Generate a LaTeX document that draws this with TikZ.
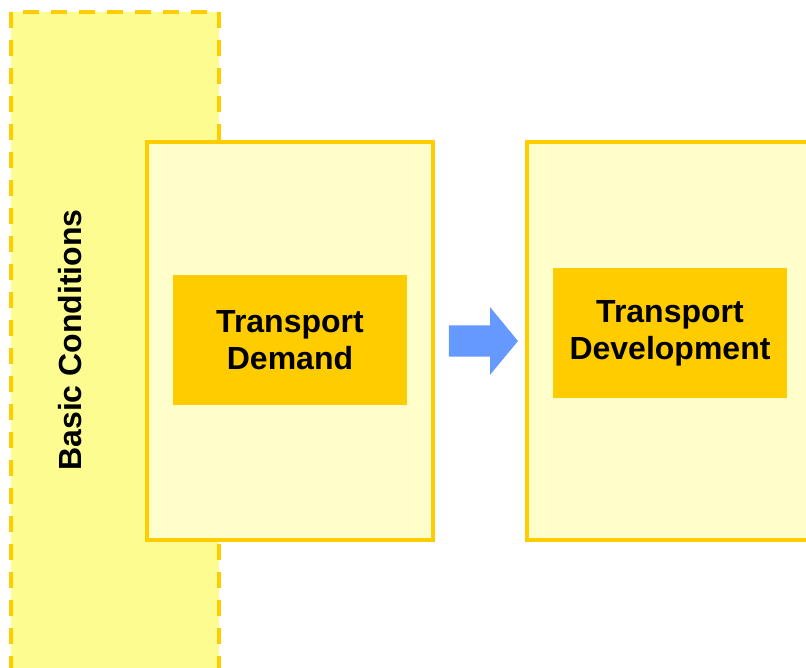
\documentclass[tikz,border=0pt]{standalone}
\usepackage{fontspec}
\setmainfont{Liberation Sans}
\usetikzlibrary{shapes.arrows}

\definecolor{amber}{HTML}{FFCC00}
\definecolor{lemon}{HTML}{FDFC91}
\definecolor{cream}{HTML}{FFFFCC}
\definecolor{flowblue}{HTML}{6699FF}

\tikzset{
	panel/.style = {draw = amber, line width = 3.5pt, fill = cream, minimum width = 286pt, minimum height = 398pt},
	core/.style = {fill = amber, minimum width = 234pt, minimum height = 130pt, align = center,
		font = \fontsize{32}{37}\selectfont\bfseries},
}

\begin{document}
\begin{tikzpicture}[x = 1pt, y = -1pt]
	\path [use as bounding box, clip] (0,0) rectangle (806,667);
	% basic conditions band, runs off the bottom
	\draw [draw = amber, fill = lemon, line width = 3.5pt, dash pattern = on 16pt off 12pt] (11,12) rectangle (219,700);
	\node (basic) at (70,340) [rotate = 90, font = \fontsize{32}{37}\selectfont\bfseries] {Basic Conditions};
	% the two panels
	\node (demandpanel) at (290,341) [panel] {};
	\node (devpanel) at (684,341) [panel, minimum width = 314pt] {};
	\node (demand) at (290,340) [core] {Transport\\Demand};
	\node (dev) at (670,333) [core] {Transport\\Development};
	% block arrow between them
	\node (flow) at (477,341) [single arrow, fill = flowblue, inner xsep = 0, inner ysep = 15.5pt,
		minimum height = 69pt, single arrow head extend = 18pt, single arrow tip angle = 101] {};
\end{tikzpicture}
\end{document}
